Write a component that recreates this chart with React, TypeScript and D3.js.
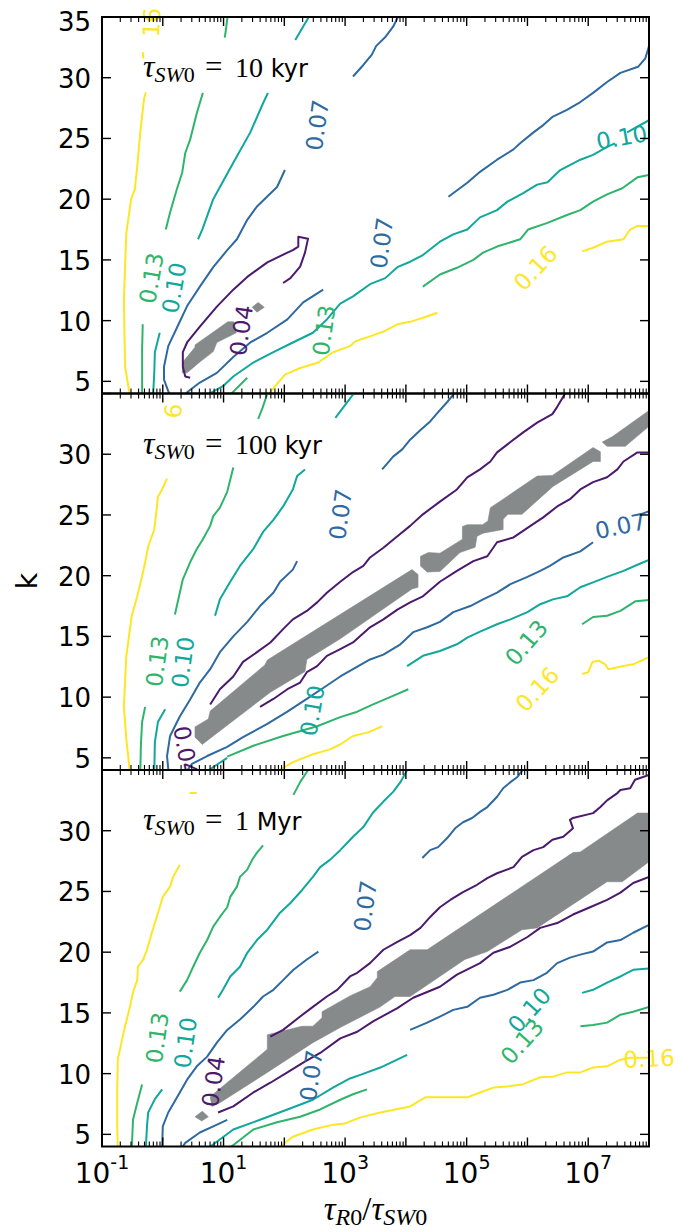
import React from 'react';
import * as d3 from 'd3';

type Pt = [number, number]; // [log10(tauR0/tauSW0), k]

const W = 699;
const H = 1232;
const X_DOMAIN: [number, number] = [0.1, 1e8];
const K_DOMAIN: [number, number] = [4, 35];
const K_TICKS = [5, 10, 15, 20, 25, 30, 35];
const X_LABEL_EXPS = [-1, 1, 3, 5, 7];
const LEVEL_COLORS: Record<string, string> = {
  '0.04': '#4b1a6d',
  '0.07': '#2e6a9f',
  '0.10': '#10a79c',
  '0.13': '#2eb56b',
  '0.16': '#fde725',
};
const GRAY = '#868a8b';
const PANEL_TITLES = [
  { val: '10', unit: 'kyr' },
  { val: '100', unit: 'kyr' },
  { val: '1', unit: 'Myr' },
];

// ---------------- Panel 1 : tauSW0 = 10 kyr ----------------
const P1_C016: Pt[][] = [
  [[-0.54, 3.8], [-0.62, 6.2], [-0.64, 11.7], [-0.6, 17.2], [-0.52, 20.0], [-0.46, 20.8], [-0.42, 22.7], [-0.37, 25.5], [-0.31, 28.2], [-0.28, 28.8]],
  [[-0.33, 32.1], [-0.32, 31.6]],
  [[1.72, 3.8], [1.85, 4.6], [2.01, 5.55], [2.26, 6.1], [2.56, 6.55], [2.8, 7.4], [3.08, 7.9], [3.17, 8.3], [3.41, 8.7], [3.63, 9.1], [3.86, 9.7], [4.07, 9.9], [4.32, 10.3], [4.52, 10.65]],
  [[6.9, 15.7], [7.08, 16.0], [7.31, 16.5], [7.58, 16.7], [7.69, 17.5], [7.81, 17.8], [8.0, 17.8]],
];
const P1_C013: Pt[][] = [
  [[1.07, 35.2], [1.04, 34.0], [1.02, 33.3]],
  [[0.66, 28.75], [0.56, 27.1], [0.45, 24.9], [0.37, 23.8], [0.32, 22.2], [0.23, 20.8], [0.12, 18.9], [0.05, 17.5]],
  [[-0.33, 9.7], [-0.34, 7.6], [-0.34, 3.8]],
  [[1.09, 3.8], [1.39, 5.3]],
  [[4.28, 12.8], [4.56, 13.8], [4.84, 14.35], [5.11, 15.0], [5.27, 15.6], [5.5, 16.1], [5.88, 16.7], [6.01, 17.5], [6.33, 18.05], [6.65, 18.7], [6.87, 19.1], [7.08, 19.8], [7.31, 20.4], [7.56, 20.9], [7.81, 21.8], [8.0, 22.0]],
];
const P1_C010: Pt[][] = [
  [[0.58, 16.7], [0.65, 17.5], [0.83, 20.0], [1.16, 23.0], [1.44, 25.5], [1.65, 27.9], [1.73, 28.75]],
  [[2.18, 33.1], [2.39, 34.9], [2.42, 35.2]],
  [[-0.05, 9.0], [-0.13, 7.4], [-0.14, 5.7], [-0.16, 3.8]],
  [[0.7, 3.8], [0.99, 4.6], [1.16, 5.4], [1.49, 6.55], [1.82, 7.4], [2.14, 8.2], [2.47, 9.0], [2.7, 10.1], [2.92, 11.4], [3.13, 12.0], [3.41, 13.0], [3.66, 13.5], [3.86, 14.4], [4.07, 14.85], [4.28, 15.4], [4.56, 16.5], [4.78, 17.1], [5.01, 17.5], [5.22, 18.5], [5.5, 19.1], [5.67, 19.8], [5.93, 20.5], [6.16, 21.2], [6.33, 21.4], [6.54, 22.4], [6.87, 23.25], [7.08, 23.65], [7.31, 24.3], [7.44, 24.6]],
  [[7.64, 25.5], [8.0, 26.5]],
];
const P1_C007: Pt[][] = [
  [[2.01, 22.4], [1.88, 21.0], [1.55, 19.4], [1.39, 18.3], [1.22, 16.7], [1.06, 15.8], [0.83, 14.4], [0.61, 12.8], [0.4, 11.2], [0.24, 9.5], [0.09, 7.9], [0.02, 6.2], [0.02, 5.15], [0.09, 4.2], [0.15, 3.5], [0.3, 3.4], [0.4, 4.1], [0.61, 4.9], [0.89, 5.7], [1.16, 7.0], [1.44, 8.2], [1.72, 9.0], [2.05, 10.1], [2.31, 11.5], [2.64, 12.55]],
  [[3.13, 30.1], [3.3, 31.05], [3.44, 31.9], [3.51, 32.6], [3.67, 33.4], [3.79, 34.2], [3.87, 35.0], [3.9, 35.3]],
  [[4.7, 20.2], [5.01, 21.35], [5.22, 22.25], [5.5, 23.25], [5.77, 24.1], [5.88, 24.6], [6.1, 25.5], [6.26, 26.1], [6.42, 26.8], [6.65, 27.35], [6.87, 28.0], [7.08, 28.75], [7.31, 29.65], [7.53, 30.4], [7.82, 30.9], [7.94, 31.6], [7.99, 32.45], [8.0, 32.6]],
];
const P1_C004: Pt[][] = [
  [[0.45, 5.3], [0.37, 5.4], [0.33, 6.2], [0.33, 7.4], [0.4, 8.2], [0.61, 9.5], [0.89, 11.15], [1.16, 12.55], [1.39, 13.6], [1.72, 14.8], [2.05, 15.6], [2.14, 15.8], [2.23, 16.1], [2.23, 16.9], [2.39, 16.75], [2.34, 15.6], [2.26, 14.45], [2.1, 13.5], [1.98, 13.1]],
];
const P1_GRAY: Pt[][] = [
  [[0.33, 6.6], [0.53, 7.8], [0.53, 8.0], [1.07, 9.9], [1.17, 9.9], [1.21, 9.0], [0.89, 8.2], [0.83, 7.45], [0.61, 6.6], [0.4, 5.7], [0.32, 5.7]],
  [[1.47, 11.1], [1.57, 11.5], [1.67, 11.1], [1.55, 10.7]],
];
const P1_LABELS = [
  { lv: '0.16', t: '16', at: [-0.185, 34.55] as Pt, rot: -87 },
  { lv: '0.13', t: '0.13', at: [-0.19, 13.5] as Pt, rot: -80 },
  { lv: '0.10', t: '0.10', at: [0.185, 12.7] as Pt, rot: -80 },
  { lv: '0.04', t: '0.04', at: [1.29, 9.2] as Pt, rot: -82 },
  { lv: '0.07', t: '0.07', at: [2.54, 26.1] as Pt, rot: -82 },
  { lv: '0.07', t: '0.07', at: [3.6, 16.4] as Pt, rot: -82 },
  { lv: '0.13', t: '0.13', at: [2.65, 9.2] as Pt, rot: -82 },
  { lv: '0.10', t: '0.10', at: [7.55, 25.1] as Pt, rot: -10 },
  { lv: '0.16', t: '0.16', at: [6.13, 14.35] as Pt, rot: -47 },
];

// ---------------- Panel 2 : tauSW0 = 100 kyr ----------------
const P2_C016: Pt[][] = [
  [[-0.54, 3.8], [-0.6, 6.55], [-0.64, 9.25], [-0.6, 13.4], [-0.51, 16.7], [-0.42, 18.3], [-0.34, 19.95], [-0.29, 21.1], [-0.24, 22.4], [-0.14, 23.8], [-0.1, 25.5], [-0.08, 26.5], [-0.01, 27.1], [0.07, 28.0]],
  [[1.85, 3.8], [2.14, 4.65], [2.47, 5.3], [2.75, 5.7], [2.92, 6.1], [3.13, 6.8], [3.38, 7.1], [3.61, 7.6]],
  [[6.9, 11.9], [7.0, 12.05], [7.07, 12.9], [7.17, 13.0], [7.28, 12.7], [7.33, 12.3], [7.56, 12.55], [7.74, 12.7], [8.0, 13.3]],
];
const P2_C013: Pt[][] = [
  [[1.57, 32.9], [1.64, 33.8], [1.72, 35.0], [1.74, 35.3]],
  [[1.16, 28.9], [1.11, 27.9], [1.06, 26.9], [0.94, 25.6], [0.83, 24.9], [0.78, 24.1], [0.66, 23.0], [0.56, 22.2], [0.45, 21.1], [0.33, 19.7], [0.2, 16.8]],
  [[-0.29, 9.2], [-0.34, 7.95], [-0.36, 6.1], [-0.37, 3.8]],
  [[1.06, 5.1], [1.49, 6.0], [1.98, 6.8], [2.54, 7.6], [2.92, 8.35], [3.2, 8.8], [3.46, 9.4], [3.74, 10.0], [4.04, 10.65]],
  [[6.9, 16.0], [7.08, 16.6], [7.31, 16.7], [7.53, 17.1], [7.78, 17.9], [8.0, 18.0]],
];
const P2_C010: Pt[][] = [
  [[2.84, 33.0], [2.97, 33.85], [3.13, 34.9], [3.16, 35.3]],
  [[2.34, 28.75], [2.21, 28.2], [2.14, 27.1], [1.98, 25.7], [1.82, 24.6], [1.65, 23.6], [1.49, 22.2], [1.27, 20.8], [1.11, 19.5], [0.94, 18.05], [0.86, 16.7]],
  [[0.04, 9.0], [-0.08, 7.95], [-0.13, 6.3], [-0.14, 3.8]],
  [[0.7, 3.8], [1.06, 5.0]],
  [[4.02, 12.55], [4.28, 13.4], [4.56, 13.8], [4.84, 14.35], [5.01, 14.9], [5.22, 15.4], [5.5, 16.0], [5.72, 16.4], [6.0, 17.0], [6.21, 17.65], [6.42, 18.05], [6.65, 18.3], [6.87, 19.05], [7.08, 19.45], [7.31, 19.9], [7.58, 20.4], [7.81, 20.9], [8.0, 21.3]],
];
const P2_C007: Pt[][] = [
  [[2.21, 21.2], [2.14, 20.5], [1.93, 19.5], [1.82, 18.6], [1.6, 17.5], [1.39, 16.2], [1.16, 15.0], [0.94, 13.7], [0.78, 12.3], [0.61, 11.2], [0.45, 9.8], [0.28, 8.4], [0.12, 6.8], [0.07, 5.15], [0.09, 4.1], [0.15, 3.5], [0.35, 3.6], [0.48, 4.5], [0.73, 5.15], [1.06, 5.9], [1.32, 6.7], [1.72, 7.8], [2.05, 8.8], [2.37, 9.85], [2.64, 10.75], [2.92, 11.7], [3.13, 12.3], [3.41, 13.1], [3.63, 13.5], [3.91, 14.35], [4.12, 15.35], [4.35, 15.75], [4.56, 16.2], [4.78, 17.0], [5.06, 17.5], [5.27, 18.05], [5.5, 18.6], [5.72, 19.3], [6.0, 19.9], [6.21, 20.4], [6.37, 20.8], [6.59, 21.5], [6.87, 22.0], [7.08, 22.75]],
  [[7.86, 25.05], [8.0, 25.3]],
  [[3.61, 28.75], [3.79, 29.8], [3.94, 30.4], [4.07, 31.2], [4.24, 32.0], [4.4, 32.7], [4.52, 33.4], [4.68, 34.3], [4.78, 34.9], [4.82, 35.3]],
];
const P2_C004: Pt[][] = [
  [[0.78, 9.4], [0.94, 10.65], [1.16, 11.7], [1.32, 12.9], [1.55, 13.7], [1.77, 14.5], [1.98, 15.6], [2.14, 16.4], [2.37, 17.1], [2.54, 17.8], [2.7, 18.6], [2.92, 19.5], [3.13, 20.3], [3.3, 20.8], [3.41, 21.5], [3.63, 22.3], [3.86, 23.25], [4.07, 24.1], [4.28, 25.05], [4.56, 26.1], [4.84, 27.1], [5.01, 28.1], [5.22, 28.75], [5.39, 29.4], [5.5, 30.15], [5.72, 31.0], [5.93, 31.8], [6.16, 32.6], [6.41, 33.3], [6.49, 33.9], [6.62, 35.0], [6.65, 35.3]],
  [[1.6, 9.2], [1.82, 9.85], [2.05, 10.65], [2.26, 11.2], [2.37, 12.05], [2.54, 12.55], [2.7, 13.4], [2.92, 13.95], [3.13, 14.5], [3.41, 15.75], [3.63, 16.4], [3.86, 17.2], [4.07, 17.8], [4.28, 18.3], [4.56, 19.5], [4.84, 20.4], [5.11, 21.2], [5.34, 21.6], [5.5, 22.75], [5.77, 23.15], [6.05, 24.1], [6.26, 24.8], [6.49, 25.7], [6.7, 26.3], [6.87, 27.1], [7.08, 27.7], [7.31, 28.1], [7.48, 28.75], [7.58, 29.4], [7.81, 30.15], [8.0, 30.15]],
];
const P2_GRAY: Pt[][] = [
  [[0.53, 7.55], [0.75, 8.2], [0.78, 8.85], [1.68, 12.65], [1.72, 13.05], [4.1, 20.5], [4.2, 20.1], [4.2, 19.05], [4.1, 18.9], [2.92, 14.8], [2.37, 13.1], [2.34, 12.1], [1.77, 10.4], [0.83, 6.8], [0.65, 6.1], [0.53, 6.7]],
  [[4.24, 21.6], [4.37, 21.9], [4.56, 21.85], [4.93, 23.0], [4.93, 24.05], [5.01, 24.2], [5.26, 24.2], [5.35, 24.5], [5.39, 25.6], [5.6, 26.3], [6.16, 28.2], [6.41, 28.25], [7.08, 30.55], [7.2, 30.2], [7.2, 29.4], [7.08, 29.4], [6.42, 27.35], [5.91, 25.05], [5.68, 25.05], [5.6, 24.65], [5.6, 23.8], [5.27, 23.5], [5.17, 23.25], [5.14, 22.35], [4.89, 21.9], [4.56, 20.35], [4.35, 20.3], [4.24, 20.8]],
  [[7.23, 31.0], [7.4, 31.45], [8.0, 33.6], [8.0, 32.3], [7.61, 30.65], [7.31, 30.65]],
];
const P2_LABELS = [
  { lv: '0.16', t: '6', at: [0.17, 33.56] as Pt, rot: -87 },
  { lv: '0.13', t: '0.13', at: [-0.095, 12.96] as Pt, rot: -82 },
  { lv: '0.10', t: '0.10', at: [0.33, 12.88] as Pt, rot: -82 },
  { lv: '0.04', t: '0.04', at: [0.38, 5.55] as Pt, rot: 80, clip: true },
  { lv: '0.07', t: '0.07', at: [2.92, 25.05] as Pt, rot: -82 },
  { lv: '0.10', t: '0.10', at: [2.46, 8.9] as Pt, rot: -80 },
  { lv: '0.07', t: '0.07', at: [7.53, 24.1] as Pt, rot: -12 },
  { lv: '0.13', t: '0.13', at: [5.98, 14.5] as Pt, rot: -49 },
  { lv: '0.16', t: '0.16', at: [6.16, 10.65] as Pt, rot: -47 },
];

// ---------------- Panel 3 : tauSW0 = 1 Myr ----------------
const P3_C016: Pt[][] = [
  [[-0.74, 3.8], [-0.75, 5.65], [-0.75, 8.45], [-0.74, 11.15], [-0.67, 12.8], [-0.62, 13.9], [-0.54, 15.5], [-0.49, 16.7], [-0.42, 17.7], [-0.41, 18.8], [-0.32, 19.4], [-0.26, 20.2], [-0.18, 21.6], [-0.1, 22.9], [-0.05, 23.7], [0.0, 24.55], [0.12, 25.4], [0.17, 26.2], [0.28, 27.2]],
  [[0.44, 33.1], [0.56, 33.1]],
  [[1.88, 3.8], [2.14, 4.8], [2.47, 5.4], [2.8, 5.8], [3.0, 5.9], [3.25, 6.4], [3.58, 6.8], [4.07, 7.3], [4.32, 8.05], [4.56, 8.05], [5.01, 8.05], [5.22, 8.45], [5.44, 8.85], [5.67, 8.95], [5.91, 9.1], [6.21, 9.7], [6.42, 9.75], [6.65, 10.1], [6.87, 10.1], [7.08, 10.5], [7.31, 10.6], [7.53, 11.15], [7.69, 11.3], [8.0, 11.3]],
];
const P3_C013: Pt[][] = [
  [[2.15, 32.95], [2.26, 34.0], [2.39, 35.0], [2.42, 35.3]],
  [[1.65, 28.8], [1.55, 28.2], [1.47, 27.6], [1.39, 26.8], [1.27, 26.2], [1.22, 25.4], [1.11, 24.55], [1.06, 23.7], [0.94, 22.9], [0.83, 22.1], [0.73, 21.0], [0.61, 19.95], [0.5, 18.8], [0.4, 17.7], [0.28, 16.75]],
  [[-0.34, 9.1], [-0.42, 7.6], [-0.49, 6.2], [-0.51, 3.8]],
  [[1.08, 3.8], [1.49, 5.4], [1.88, 6.0], [2.26, 6.45], [2.59, 7.05], [2.92, 7.85], [3.13, 8.3], [3.36, 8.7]],
  [[6.87, 13.9], [7.08, 14.0], [7.31, 14.2], [7.53, 14.85], [7.74, 15.1], [8.0, 15.5]],
];
const P3_C010: Pt[][] = [
  [[4.05, 35.3], [4.02, 35.0], [3.91, 34.0], [3.79, 33.2], [3.63, 32.4], [3.46, 31.5], [3.3, 30.3], [3.13, 29.5], [2.92, 28.4], [2.75, 27.6], [2.59, 27.0], [2.47, 26.2], [2.29, 25.1], [2.1, 24.05], [1.93, 23.25], [1.72, 21.85], [1.55, 21.0], [1.39, 19.95], [1.27, 18.8], [1.11, 18.0], [0.99, 16.9], [0.91, 16.25]],
  [[-0.01, 8.7], [-0.13, 7.9], [-0.24, 6.8], [-0.26, 5.65], [-0.28, 3.8]],
  [[0.73, 3.8], [1.16, 5.4], [1.6, 6.2], [2.05, 7.05], [2.47, 7.85], [2.8, 8.85], [3.08, 9.6], [3.25, 9.9], [3.58, 10.5], [4.02, 11.55]],
  [[6.9, 16.65], [7.08, 16.9], [7.31, 17.5], [7.53, 18.0], [7.74, 18.55], [8.0, 18.65]],
];
const P3_C007: Pt[][] = [
  [[2.56, 20.05], [2.37, 19.4], [2.15, 18.55], [1.98, 17.7], [1.82, 16.9], [1.65, 16.35], [1.49, 15.5], [1.27, 14.45], [1.06, 13.6], [0.89, 12.55], [0.73, 11.4], [0.56, 10.6], [0.4, 9.5], [0.24, 8.1], [0.09, 6.8], [0.0, 5.65], [-0.01, 4.0], [0.05, 3.4], [0.25, 3.4], [0.37, 4.3], [0.61, 5.15], [0.83, 5.65], [1.06, 6.2]],
  [[4.07, 13.6], [4.35, 14.2], [4.56, 14.7], [4.78, 15.25], [5.01, 15.5], [5.22, 16.25], [5.44, 16.5], [5.67, 16.9], [5.88, 17.5], [6.1, 17.7], [6.32, 18.3], [6.49, 19.1], [6.7, 19.55], [6.87, 19.8], [7.08, 20.05], [7.31, 20.8], [7.53, 21.0], [7.74, 21.6], [8.0, 22.25]],
  [[4.27, 27.75], [4.4, 28.4], [4.53, 28.65], [4.68, 29.4], [4.81, 30.2], [4.94, 30.7], [5.09, 31.05], [5.22, 31.55], [5.34, 31.95], [5.5, 32.8], [5.6, 33.5], [5.72, 34.0], [5.83, 34.4], [5.92, 35.0], [5.95, 35.3]],
];
const P3_C004: Pt[][] = [
  [[1.77, 13.05], [1.98, 13.6], [2.26, 14.7], [2.47, 15.5], [2.7, 16.35], [2.87, 16.9], [3.08, 18.0], [3.2, 18.3], [3.41, 19.1], [3.63, 20.2], [3.86, 20.85], [4.07, 21.4], [4.24, 22.0], [4.4, 22.9], [4.56, 23.7], [4.73, 24.3], [4.94, 24.95], [5.17, 25.55], [5.34, 26.1], [5.5, 26.5], [5.77, 27.0], [5.91, 27.85], [6.1, 28.4], [6.26, 28.65], [6.41, 29.25], [6.59, 29.5], [6.75, 30.2], [6.7, 30.9], [6.75, 31.05], [7.08, 31.45], [7.2, 31.95], [7.31, 32.5], [7.48, 33.1], [7.53, 33.35], [7.69, 33.5], [7.77, 34.2], [8.0, 34.6]],
  [[0.91, 6.8], [1.16, 7.3], [1.49, 8.45], [1.77, 9.25], [2.05, 10.1], [2.31, 10.9], [2.59, 11.7], [2.92, 12.9], [3.2, 13.45], [3.46, 14.3], [3.86, 15.4], [4.12, 16.25], [4.56, 17.15], [4.84, 18.15], [5.22, 19.1], [5.44, 19.95], [5.72, 20.45], [6.0, 21.25], [6.21, 22.0], [6.49, 22.4], [6.75, 23.1], [7.03, 23.7], [7.31, 24.3], [7.53, 24.9], [7.74, 25.7], [8.0, 26.2]],
];
const P3_GRAY: Pt[][] = [
  [[0.78, 8.1], [1.72, 12.0], [1.72, 13.2], [2.29, 13.9], [2.47, 13.9], [2.62, 14.6], [2.62, 15.1], [3.08, 16.4], [3.41, 17.15], [3.53, 17.9], [3.53, 18.4], [4.07, 20.2], [4.35, 20.2], [6.75, 28.2], [6.87, 28.25], [7.81, 31.45], [8.0, 31.45], [8.0, 27.45], [7.56, 25.8], [7.31, 25.8], [6.16, 22.0], [5.91, 21.85], [5.34, 20.05], [4.97, 19.4], [4.07, 16.35], [3.82, 16.35], [3.58, 15.5], [2.92, 13.8], [2.47, 12.55], [1.72, 10.1], [0.94, 7.6], [0.81, 7.3]],
  [[0.53, 6.45], [0.65, 6.9], [0.75, 6.45], [0.64, 6.1]],
];
const P3_LABELS = [
  { lv: '0.13', t: '0.13', at: [-0.095, 12.96] as Pt, rot: -82 },
  { lv: '0.10', t: '0.10', at: [0.37, 12.55] as Pt, rot: -82 },
  { lv: '0.04', t: '0.04', at: [0.83, 9.35] as Pt, rot: -82 },
  { lv: '0.07', t: '0.07', at: [3.33, 23.8] as Pt, rot: -82 },
  { lv: '0.07', t: '0.07', at: [2.44, 9.84] as Pt, rot: -82 },
  { lv: '0.13', t: '0.13', at: [5.91, 12.65] as Pt, rot: -48 },
  { lv: '0.10', t: '0.10', at: [6.03, 15.25] as Pt, rot: -48 },
  { lv: '0.16', t: '0.16', at: [8.0, 11.25] as Pt, rot: -3 },
];

const PANELS = [
  { lines: [P1_C016, P1_C013, P1_C010, P1_C007, P1_C004], gray: P1_GRAY, labels: P1_LABELS },
  { lines: [P2_C016, P2_C013, P2_C010, P2_C007, P2_C004], gray: P2_GRAY, labels: P2_LABELS },
  { lines: [P3_C016, P3_C013, P3_C010, P3_C007, P3_C004], gray: P3_GRAY, labels: P3_LABELS },
];
const LINE_LEVELS = ['0.16', '0.13', '0.10', '0.07', '0.04'];

// layout
const PL = 102;
const PR = 649;
const TOP0 = 17;
const PH = 376.5;

export default function App() {
  const x = d3.scaleLog().domain(X_DOMAIN).range([PL, PR]);
  const fx = (lx: number) => x(Math.pow(10, lx));
  const majors = d3.range(-1, 9).map((e) => Math.pow(10, e));
  const minors: number[] = [];
  for (let e = -1; e < 8; e++) for (let m = 2; m <= 9; m++) minors.push(m * Math.pow(10, e));
  const tops = [0, 1, 2].map((i) => TOP0 + i * PH);
  const sans = 'DejaVu Sans, sans-serif';
  const serif = 'Liberation Serif, Times New Roman, serif';

  return (
    <svg width={W} height={H} viewBox={`0 0 ${W} ${H}`} style={{ position: 'absolute', left: 0, top: 0, background: '#fff' }}>
      <rect x={0} y={0} width={W} height={H} fill="#fff" />
      <defs>
        {tops.map((t, i) => (
          <clipPath id={`clip${i}`} key={i}>
            <rect x={PL} y={t} width={PR - PL} height={PH} />
          </clipPath>
        ))}
      </defs>
      {PANELS.map((p, i) => {
        const top = tops[i];
        const bottom = top + PH;
        const y = d3.scaleLinear().domain(K_DOMAIN).range([bottom, top]);
        const ln = d3.line<Pt>().x((d) => fx(d[0])).y((d) => y(d[1]));
        const title = PANEL_TITLES[i];
        return (
          <g key={i}>
            <g clipPath={`url(#clip${i})`}>
              {p.gray.map((poly, j) => (
                <path key={'g' + j} d={(ln(poly) || '') + 'Z'} fill={GRAY} stroke={GRAY} strokeWidth={0.6} />
              ))}
              {p.lines.map((pieces, li) =>
                pieces.map((pc, j) => (
                  <path
                    key={`l${li}-${j}`}
                    d={ln(pc) || ''}
                    fill="none"
                    stroke={LEVEL_COLORS[LINE_LEVELS[li]]}
                    strokeWidth={2}
                    strokeLinejoin="round"
                  />
                ))
              )}
            </g>
            {p.labels.map((l: any, j: number) => {
              const el = (
                <text
                  key={'t' + j}
                  transform={`translate(${fx(l.at[0])},${y(l.at[1])}) rotate(${l.rot})`}
                  textAnchor="middle"
                  dy="0.36em"
                  fill={LEVEL_COLORS[l.lv]}
                  fontFamily={sans}
                  fontSize={23}
                >
                  {l.t}
                </text>
              );
              return l.clip ? (
                <g key={'c' + j} clipPath={`url(#clip${i})`}>
                  {el}
                </g>
              ) : (
                el
              );
            })}
            {/* ticks */}
            <g stroke="#000">
              {majors.map((v, j) => (
                <g key={'mx' + j}>
                  <line x1={x(v)} x2={x(v)} y1={bottom} y2={bottom - 9} strokeWidth={1.4} />
                  <line x1={x(v)} x2={x(v)} y1={top} y2={top + 9} strokeWidth={1.4} />
                </g>
              ))}
              {minors.map((v, j) => (
                <g key={'nx' + j}>
                  <line x1={x(v)} x2={x(v)} y1={bottom} y2={bottom - 5} strokeWidth={1.1} />
                  <line x1={x(v)} x2={x(v)} y1={top} y2={top + 5} strokeWidth={1.1} />
                </g>
              ))}
              {K_TICKS.map((v, j) => (
                <g key={'ky' + j}>
                  <line x1={PL} x2={PL + 9} y1={y(v)} y2={y(v)} strokeWidth={1.4} />
                  <line x1={PR} x2={PR - 9} y1={y(v)} y2={y(v)} strokeWidth={1.4} />
                </g>
              ))}
            </g>
            <rect x={PL} y={top} width={PR - PL} height={PH} fill="none" stroke="#000" strokeWidth={2} />
            {K_TICKS.filter((v) => i === 0 || v < 35).map((v, j) => (
              <text
                key={'kl' + j}
                x={91}
                y={y(v) + (v === 35 ? 13.5 : 10)}
                textAnchor="end"
                fontFamily={sans}
                fontSize={26}
                fill="#000"
              >
                {v}
              </text>
            ))}
            <text x={143} y={top + 60} fontFamily={serif} fontSize={28} fill="#000">
              <tspan fontStyle="italic" fontSize={32}>τ</tspan>
              <tspan fontStyle="italic" fontSize={22} dy={5}>SW</tspan>
              <tspan fontSize={22}>0</tspan>
              <tspan x={205} dy={-5} fontSize={31}>=</tspan>
              <tspan x={235}>{title.val}</tspan>
              <tspan fontFamily={sans} fontSize={24}>{'\u00a0' + title.unit}</tspan>
            </text>
          </g>
        );
      })}
      {/* x tick labels (bottom panel) */}
      {X_LABEL_EXPS.map((e, j) => (
        <text key={'xl' + j} x={fx(e)} y={tops[2] + PH + 36} textAnchor="middle" fontFamily={sans} fill="#000">
          <tspan fontSize={28}>10</tspan>
          <tspan fontSize={19} dy={-14}>{e}</tspan>
        </text>
      ))}
      {/* axis labels */}
      <text x={(PL + PR) / 2} y={1220} textAnchor="middle" fontFamily={serif} fontSize={33} fill="#000">
        <tspan fontStyle="italic">τ</tspan>
        <tspan fontStyle="italic" fontSize={24} dy={5}>R</tspan>
        <tspan fontSize={24}>0</tspan>
        <tspan dy={-5}>/</tspan>
        <tspan fontStyle="italic">τ</tspan>
        <tspan fontStyle="italic" fontSize={24} dy={5}>SW</tspan>
        <tspan fontSize={24}>0</tspan>
      </text>
      <text transform="translate(37,581) rotate(-90)" textAnchor="middle" fontFamily={sans} fontSize={29} fill="#000">
        k
      </text>
    </svg>
  );
}
